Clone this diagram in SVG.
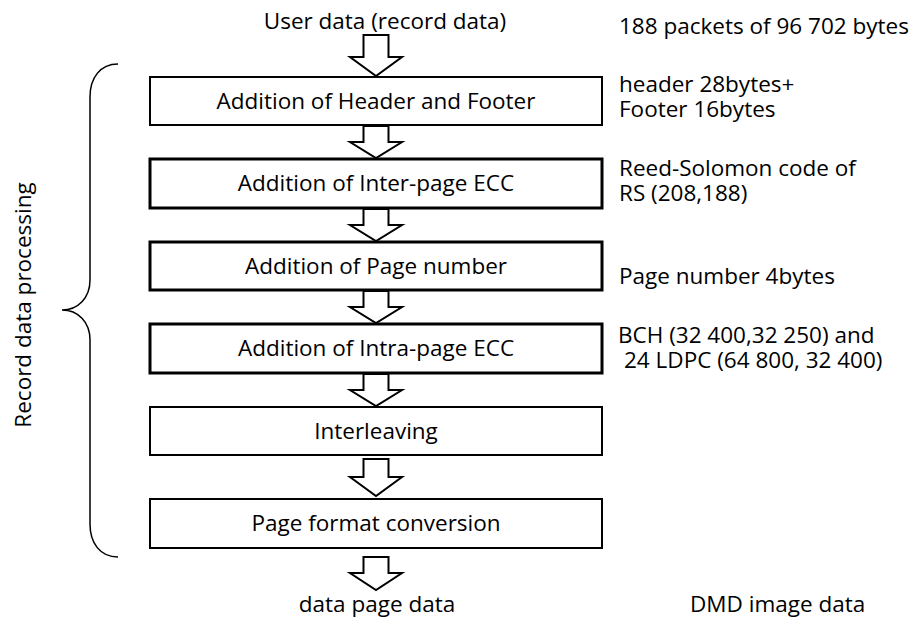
<svg xmlns="http://www.w3.org/2000/svg" width="923" height="624" viewBox="0 0 923 624">
<style>
  text { font-family: "Open Sans", "Liberation Sans", sans-serif; font-size: 22.5px; fill: #000; }
  .c { text-anchor: middle; }
  .box { fill: #fff; stroke: #000; stroke-width: 2; }
  .thick { stroke-width: 3; }
  .arr { fill: #fff; stroke: #000; stroke-width: 2; stroke-linejoin: miter; }
  .brace { fill: none; stroke: #000; stroke-width: 1.5; }
</style>
<rect width="923" height="624" fill="#fff"/>

<g id="labels">
  <text class="c" x="385" y="29">User data (record data)</text>
  <text x="619" y="34">188 packets of 96 702 bytes</text>
  <text x="619" y="92">header 28bytes+</text>
  <text x="619" y="117">Footer 16bytes</text>
  <text x="619" y="176">Reed-Solomon code of</text>
  <text x="619" y="201">RS (208,188)</text>
  <text x="619" y="284">Page number 4bytes</text>
  <text x="618" y="343">BCH (32 400,32 250) and</text>
  <text x="624" y="368">24 LDPC (64 800, 32 400)</text>
  <text class="c" x="377" y="612">data page data</text>
  <text x="690" y="612">DMD image data</text>
  <text class="c" transform="translate(31,305) rotate(-90)">Record data processing</text>
</g>

<g id="brace">
  <path class="brace" d="M118,64 C100,64 90,78 90,97 L90,280 C90,298 78,310 62,310 C78,310 90,322 90,340 L90,524 C90,543 100,557 118,557"/>
</g>

<g id="n1"><rect class="box" x="150" y="77" width="452" height="48"/><text class="c" x="376" y="109">Addition of Header and Footer</text></g>
<g id="n2"><rect class="box thick" x="150" y="159" width="452" height="49"/><text class="c" x="376" y="191">Addition of Inter-page ECC</text></g>
<g id="n3"><rect class="box thick" x="150" y="242" width="452" height="48"/><text class="c" x="376" y="274">Addition of Page number</text></g>
<g id="n4"><rect class="box thick" x="150" y="324" width="452" height="49"/><text class="c" x="376" y="356">Addition of Intra-page ECC</text></g>
<g id="n5"><rect class="box" x="150" y="407" width="452" height="48"/><text class="c" x="376" y="439">Interleaving</text></g>
<g id="n6"><rect class="box" x="150" y="499" width="452" height="49"/><text class="c" x="376" y="531">Page format conversion</text></g>

<g id="connectors">
  <polygon class="arr" points="363.5,35 388.5,35 388.5,57 402,57 376,76 350,57 363.5,57"/>
  <polygon class="arr" points="363.5,126 388.5,126 388.5,142 402,142 376,158 350,142 363.5,142"/>
  <polygon class="arr" points="363.5,209 388.5,209 388.5,225 402,225 376,241 350,225 363.5,225"/>
  <polygon class="arr" points="363.5,291 388.5,291 388.5,307 402,307 376,323 350,307 363.5,307"/>
  <polygon class="arr" points="363.5,374 388.5,374 388.5,390 402,390 376,406 350,390 363.5,390"/>
  <polygon class="arr" points="363.5,459 388.5,459 388.5,477 402,477 376,496 350,477 363.5,477"/>
  <polygon class="arr" points="363.5,557 388.5,557 388.5,573 402,573 376,590 350,573 363.5,573"/>
</g>
</svg>
